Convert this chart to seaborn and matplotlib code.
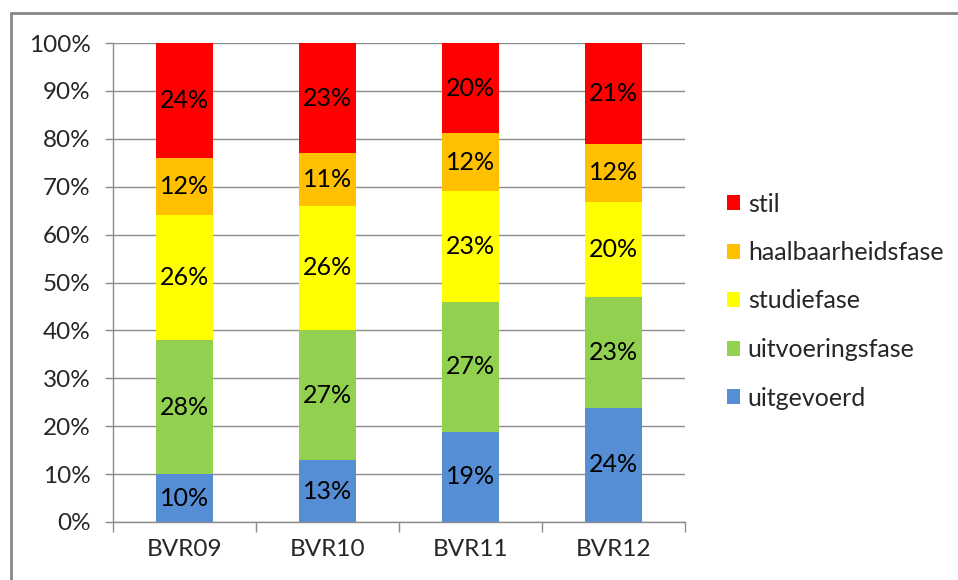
import matplotlib
matplotlib.use("Agg")
import matplotlib.pyplot as plt
import seaborn as sns
import pandas as pd
import numpy as np
from matplotlib.patches import Rectangle, Patch

categories = ["BVR09", "BVR10", "BVR11", "BVR12"]
series = ["uitgevoerd", "uitvoeringsfase", "studiefase", "haalbaarheidsfase", "stil"]
uitgevoerd = [10.0, 12.9, 18.8, 23.9]
uitvoeringsfase = [28.0, 27.2, 27.2, 23.0]
studiefase = [26.1, 25.9, 23.1, 20.0]
haalbaarheidsfase = [11.9, 11.0, 12.1, 12.0]
stil = [24.0, 23.0, 18.8, 21.1]
labels_uitgevoerd = ["10%", "13%", "19%", "24%"]
labels_uitvoeringsfase = ["28%", "27%", "27%", "23%"]
labels_studiefase = ["26%", "26%", "23%", "20%"]
labels_haalbaarheidsfase = ["12%", "11%", "12%", "12%"]
labels_stil = ["24%", "23%", "20%", "21%"]
colors = ["#558ED5", "#92D050", "#FFFF00", "#FFC000", "#FF0000"]

values = [uitgevoerd, uitvoeringsfase, studiefase, haalbaarheidsfase, stil]
labels = [labels_uitgevoerd, labels_uitvoeringsfase, labels_studiefase,
          labels_haalbaarheidsfase, labels_stil]

sns.set_theme(style="white")
plt.rcParams["font.family"] = ["Lato", "DejaVu Sans"]

fig = plt.figure(figsize=(9.58, 5.8), dpi=100)
ax = fig.add_axes([113 / 958, 1 - 522 / 580, (685 - 113) / 958, (522 - 43) / 580])

vals = np.array(values)
cum = np.cumsum(vals, axis=0)
totals = cum[-1]
cum_pct = cum / totals * 100

# draw from top (largest cumulative) to bottom so lower segments overlay
for i in range(len(series) - 1, -1, -1):
    df = pd.DataFrame({"cat": categories, "val": cum_pct[i]})
    sns.barplot(data=df, x="cat", y="val", color=colors[i], width=0.4,
                saturation=1, ax=ax, zorder=2, linewidth=0)

for i in range(len(series)):
    bottoms = cum_pct[i - 1] if i > 0 else np.zeros(len(categories))
    for j in range(len(categories)):
        mid = (bottoms[j] + cum_pct[i][j]) / 2
        ax.text(j, mid, labels[i][j], ha="center", va="center",
                fontsize=18, color="black", zorder=5)

ax.set_ylim(0, 100)
ax.set_xlim(-0.5, 3.5)
ax.set_yticks(np.arange(0, 101, 10))
ax.set_yticklabels([f"{v}%" for v in range(0, 101, 10)], fontsize=17.5)
ax.set_xticks(range(len(categories)))
ax.set_xticklabels(categories, fontsize=17.5)
ax.set_xlabel("")
ax.set_ylabel("")
ax.yaxis.grid(True, color="#8C8C8C", linewidth=1, zorder=0)
ax.set_axisbelow(True)
for s in ["top", "right"]:
    ax.spines[s].set_visible(False)
for s in ["left", "bottom"]:
    ax.spines[s].set_color("#8C8C8C")
    ax.spines[s].set_linewidth(1)
ax.tick_params(axis="y", length=6, color="#8C8C8C", width=1, pad=10, left=True)
ax.tick_params(axis="x", length=0, pad=12)
# category boundary ticks on x axis
ax.set_xticks([-0.5, 0.5, 1.5, 2.5, 3.5], minor=True)
ax.tick_params(axis="x", which="minor", length=7, color="#8C8C8C", width=1, bottom=True)

handles = [Patch(facecolor=colors[i], edgecolor="none", label=series[i])
           for i in range(len(series) - 1, -1, -1)]
fig.legend(handles=handles, loc="center left", bbox_to_anchor=(704 / 958, 1 - 301 / 580),
           frameon=False, fontsize=18, handlelength=0.55, handleheight=0.55,
           labelspacing=1.02, handletextpad=0.3)

fig.patches.append(Rectangle((11 / 958, -0.05), 1.1, 1 - 13 / 580 + 0.05,
                             transform=fig.transFigure, fill=False,
                             edgecolor="#878787", linewidth=2, zorder=10))

fig.savefig("out.png", dpi=100)
